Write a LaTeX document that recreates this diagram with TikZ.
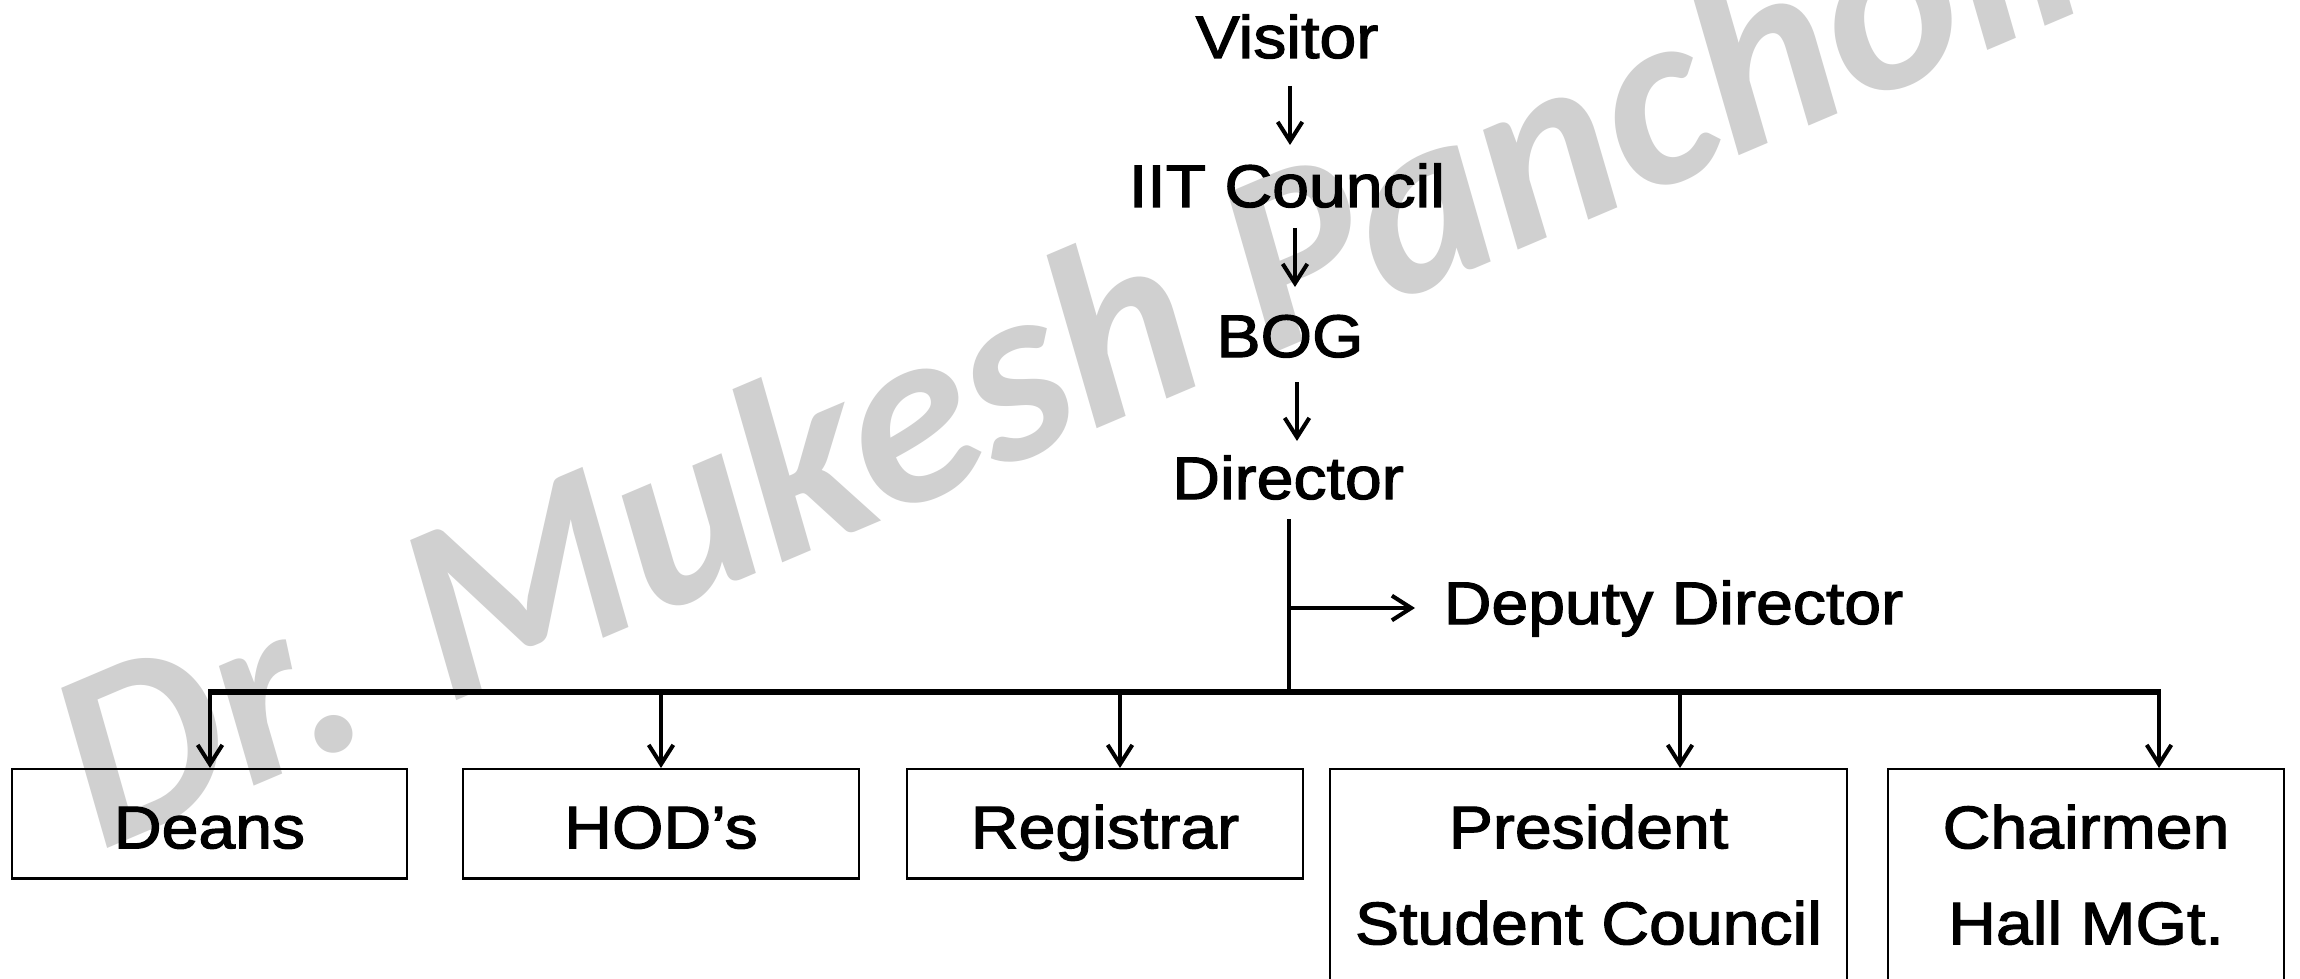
\documentclass[tikz,border=0pt]{standalone}
\usepackage{fontspec}
\setmainfont{Liberation Sans}[FakeStretch=1.1, FakeBold=2]
\newfontfamily\wmfont{Carlito}
\usetikzlibrary{arrows.meta,calc}
\definecolor{wmgray}{RGB}{208,208,208}
\begin{document}
\begin{tikzpicture}[x=0.01cm,y=-0.01cm,
  txt/.style={font=\fontsize{17.1}{27.3}\selectfont},
  lbl/.style={txt, inner sep=0pt, anchor=base},
  orgbox/.style={txt, draw, line width=0.7pt, inner sep=0pt, anchor=north,
    align=center, text height=0.79cm, text depth=0.30cm},
  link/.style={line width=1.15pt},
  arr/.style={link, -{Straight Barb[length=5.5pt,width=7pt]}},
  bus/.style={line width=1.7pt},
  wm/.style={text=wmgray, inner sep=0pt, anchor=base west, rotate=23,
    font={\wmfont\fontsize{72.5}{80}\selectfont\bfseries\itshape}}
]
\useasboundingbox (0,0) rectangle (2300,979);
\fill[white] (0,0) rectangle (2300,979);
\clip (0,0) rectangle (2300,979);

% watermark behind the chart
\node[wm] (wmark) at (100,852) {Dr. Mukesh Pancholi};

% chain of authority
\node[lbl] (visitor)  at (1287,58)  {Visitor};
\node[lbl] (iit)      at (1287,207) {IIT Council};
\node[lbl] (bog)      at (1290,357) {BOG};
\node[lbl] (director) at (1288,499) {Director};
\node[lbl, anchor=base west] (deputy) at (1443,624) {Deputy Director};

\draw[arr] ($(visitor.base)+(3,28)$) -- ($(iit.base)+(3,-62)$);
\draw[arr] ($(iit.base)+(8,21)$) -- ($(bog.base)+(5,-70)$);
\draw[arr] ($(bog.base)+(7,25)$) -- ($(director.base)+(9,-58)$);

% trunk, side branch and distribution bus
\coordinate (tap) at (1289,608);
\coordinate (hub) at (1289,692);
\coordinate (busL) at (208,692);
\coordinate (busR) at (2161,692);
\draw[link] ($(director.base)+(1,20)$) -- (hub);
\draw[arr] (tap) -- ($(deputy.base west)+(-28,-16)$);
\draw[bus] (busL) -- (busR);

% units reporting to the director
\node[orgbox, minimum width=3.95cm] (deans) at (209.5,768) {Deans};
\node[orgbox, minimum width=3.96cm] (hods)  at (661,768)   {HOD’s};
\node[orgbox, minimum width=3.96cm] (reg)   at (1105,768)  {Registrar};
\node[orgbox, minimum width=5.17cm, text depth=1.63cm] (pres) at (1588.5,768)
  {\begin{tabular}[t]{@{}c@{}}President\\Student Council\end{tabular}};
\node[orgbox, minimum width=3.96cm, text depth=1.63cm] (chair) at (2086,768)
  {\begin{tabular}[t]{@{}c@{}}Chairmen\\Hall MGt.\end{tabular}};

\coordinate (d1) at (210,692);
\coordinate (d2) at (661,692);
\coordinate (d3) at (1120,692);
\coordinate (d4) at (1680,692);
\coordinate (d5) at (2159,692);
\draw[arr] (d1) -- (d1 |- deans.north);
\draw[arr] (d2) -- (d2 |- hods.north);
\draw[arr] (d3) -- (d3 |- reg.north);
\draw[arr] (d4) -- (d4 |- pres.north);
\draw[arr] (d5) -- (d5 |- chair.north);
\end{tikzpicture}
\end{document}
